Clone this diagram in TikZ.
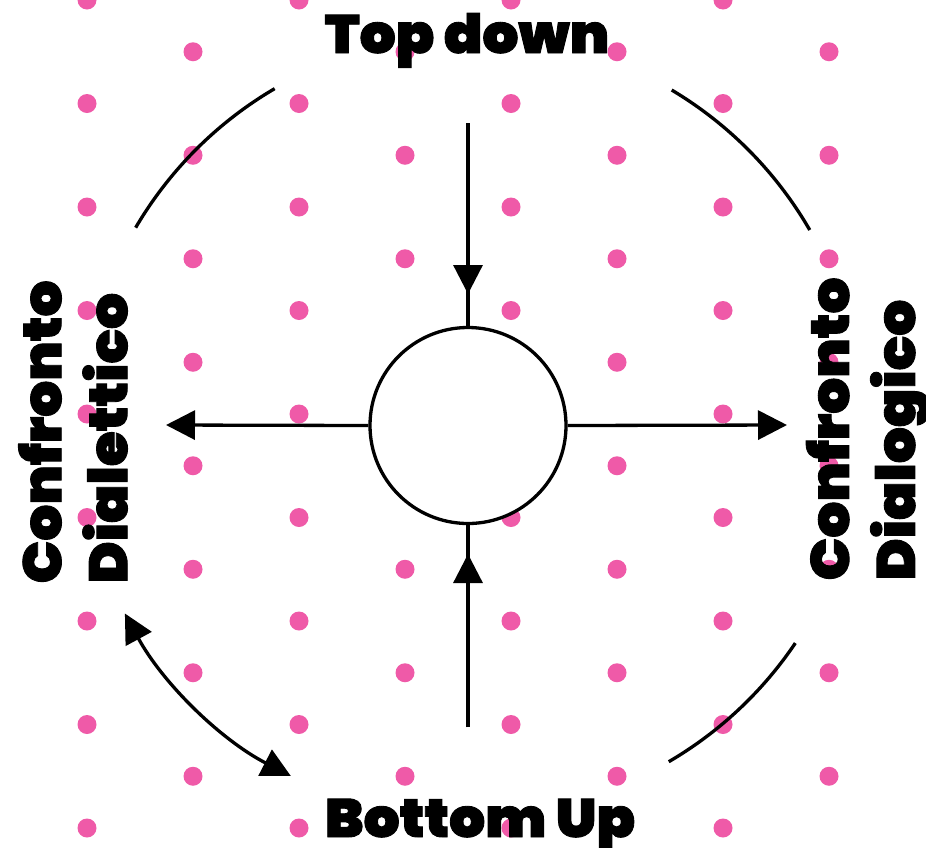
\documentclass[tikz,border=0pt]{standalone}
\usepackage{fontspec}
\newfontfamily\blk{Poppins Black}[FakeBold=1.6,FakeStretch=1.05]
\usetikzlibrary{arrows.meta}
\definecolor{dotpink}{RGB}{239,90,168}
\begin{document}
\begin{tikzpicture}[x=1pt,y=-1pt,line width=3.3pt,line cap=butt,
  lbl/.style={font=\blk\fontsize{54}{66}\selectfont,inner sep=0pt,text=black},
  tri/.style={-{Triangle[length=29pt,width=29pt]}},
  duotri/.style={{Triangle[length=29pt,width=29pt]}-{Triangle[length=29pt,width=29pt]}},
  hubstyle/.style={circle,draw=black,fill=white,minimum size=196pt,inner sep=0pt}]
\useasboundingbox (0,0) rectangle (926,847);
% dot pattern
\foreach \i in {0,...,7}{
  \foreach \j in {0,...,8}{
    \fill[dotpink] ({87+106*\i},{mod(\i,2)*51.75+103.5*\j}) circle (9.5pt);
  }
}
% outer arcs
\draw ([shift={(-149.6:390)}]472,425) arc[start angle=-149.6,end angle=-120.4,radius=390];
\draw ([shift={(-59.2:390)}]472,425) arc[start angle=-59.2,end angle=-30.0,radius=390];
\draw ([shift={(34.0:390)}]472,425) arc[start angle=34.0,end angle=59.7,radius=390];
\draw[duotri] ([shift={(151.5:395)}]472,425) arc[start angle=151.5,end angle=117.3,radius=395];
% hub
\node[hubstyle] (hub) at (468,425.5) {};
\coordinate (tstart) at (468,123);
\coordinate (ttip) at (468,294);
\coordinate (bstart) at (468,727);
\coordinate (btip) at (468,554);
\coordinate (ltip) at (166,425);
\coordinate (rtip) at (787,425);
\draw (tstart) -- (hub.north);
\draw[tri] (tstart) -- (ttip);
\draw (bstart) -- (hub.south);
\draw[tri] (bstart) -- (btip);
\draw[tri] (hub.west) -- (ltip);
\draw[tri] (hub.east) -- (rtip);
% labels
\node[lbl,anchor=base] (toplbl) at (467,53) {Top down};
\node[lbl,anchor=base] (botlbl) at (480,837) {Bottom Up};
\node[lbl,rotate=90,anchor=west,align=left] (leftlbl) at (73,585) {Confronto\\Dialettico};
\node[lbl,rotate=90,anchor=west,align=left] (rightlbl) at (868,582) {Confronto\\Dialogico};
\end{tikzpicture}
\end{document}
